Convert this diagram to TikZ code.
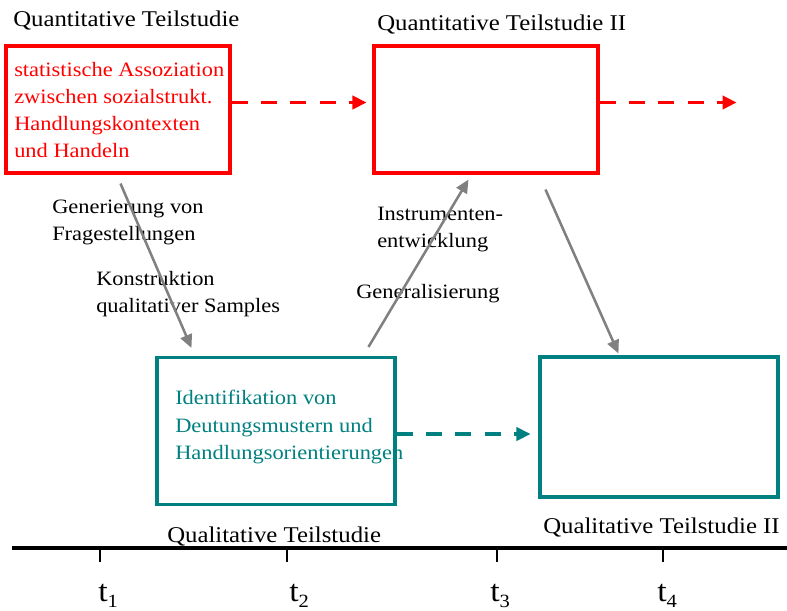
\documentclass[tikz,border=0pt]{standalone}
\usepackage{fontspec}
\setmainfont{Liberation Serif}[FakeStretch=1.1]
\usetikzlibrary{arrows.meta,calc}
\definecolor{qred}{RGB}{255,0,0}
\definecolor{qteal}{RGB}{0,128,128}
\definecolor{qgray}{RGB}{128,128,128}
\newcommand{\tsub}[1]{t\raisebox{-0.22em}{\fontsize{14}{16}\selectfont #1}}
\begin{document}
\begin{tikzpicture}[x=0.75pt,y=-0.75pt,
  titletext/.style={anchor=base west,inner sep=0,font=\fontsize{16.9}{20}\selectfont},
  bodytext/.style={anchor=base west,inner sep=0,font=\fontsize{15.3}{18}\selectfont},
  ttext/.style={anchor=base west,inner sep=0,font=\fontsize{23}{26}\selectfont},
  redbox/.style={draw=qred,line width=2.3pt,inner sep=0,minimum width=168pt,minimum height=95.25pt},
  tealbox/.style={draw=qteal,line width=2.3pt,inner sep=0,minimum width=178.5pt},
  reddash/.style={draw=qred,line width=2.3pt,dash pattern=on 12pt off 10pt,
     -{Triangle[length=10.5pt,width=10pt]}},
  tealdash/.style={draw=qteal,line width=2.3pt,dash pattern=on 12pt off 10pt,
     -{Triangle[length=10.5pt,width=10pt]}},
  grayarrow/.style={draw=qgray,line width=1.9pt,-{Triangle[length=10pt,width=9pt]}},
  tick/.style={line width=1.6pt},
]
\useasboundingbox (0,0) rectangle (787,610);

% titles
\node[titletext] (tq1) at (13,27) {Quantitative Teilstudie};
\node[titletext] (tq2) at (377,31) {Quantitative Teilstudie II};
\node[titletext] (tl1) at (167,542) {Qualitative Teilstudie};
\node[titletext] (tl2) at (543,533) {Qualitative Teilstudie II};

% boxes
\node[redbox] (q1) at (118,109.5) {};
\node[redbox] (q2) at (486,109.5) {};
\node[tealbox,minimum height=110.25pt] (l1) at (276,431) {};
\node[tealbox,minimum height=105pt] (l2) at (659,427) {};

% box texts
\begin{scope}[every node/.append style={text=qred}]
\node[bodytext] (r1) at (14,76) {statistische Assoziation};
\node[bodytext] (r2) at (14,103) {zwischen sozialstrukt.};
\node[bodytext] (r3) at (14,130) {Handlungskontexten};
\node[bodytext] (r4) at (14,157) {und Handeln};
\end{scope}
\begin{scope}[every node/.append style={text=qteal}]
\node[bodytext] (g1) at (175,404) {Identifikation von};
\node[bodytext] (g2) at (175,432) {Deutungsmustern und};
\node[bodytext] (g3) at (175,459) {Handlungsorientierungen};
\end{scope}

% labels
\node[bodytext] (a1) at (52,213) {Generierung von};
\node[bodytext] (a2) at (52,240) {Fragestellungen};
\node[bodytext] (b1) at (96,285) {Konstruktion};
\node[bodytext] (b2) at (96,312) {qualitativer Samples};
\node[bodytext] (c1) at (377,220) {Instrumenten-};
\node[bodytext] (c2) at (377,247) {entwicklung};
\node[bodytext] (d1) at (356,298) {Generalisierung};

% dashed arrows
\coordinate (r2end) at ($(q2.east)+(137,-7)$);
\draw[reddash] ($(q1.east)+(0,-7)$) -- ($(q2.west)+(-6,-7)$);
\draw[reddash] ($(q2.east)+(0,-7)$) -- (r2end);
\draw[tealdash] ($(l1.east)+(0,3)$) -- ($(l2.west)+(-8,7)$);

% gray arrows
\draw[grayarrow] ($(q1.south west)+(116,9)$) -- ($(l1.north west)+(36,-8)$);
\draw[grayarrow] ($(l1.north west)+(213,-9)$) -- ($(q2.south west)+(96,5)$);
\draw[grayarrow] ($(q2.south west)+(173,15)$) -- ($(l2.north west)+(80,-2)$);

% time axis
\coordinate (ax0) at (12,548);
\coordinate (ax1) at (787,548);
\draw[line width=2.3pt] (ax0) -- (ax1);
\foreach \x/\n in {100/1,287/2,497/3,663/4}{
  \coordinate (tk\n) at (\x,548);
  \draw[tick] (tk\n) -- ++(0,14);
}
\node[ttext] (t1) at (98,601) {\tsub{1}};
\node[ttext] (t2) at (289,601) {\tsub{2}};
\node[ttext] (t3) at (490,601) {\tsub{3}};
\node[ttext] (t4) at (657,601) {\tsub{4}};
\end{tikzpicture}
\end{document}
